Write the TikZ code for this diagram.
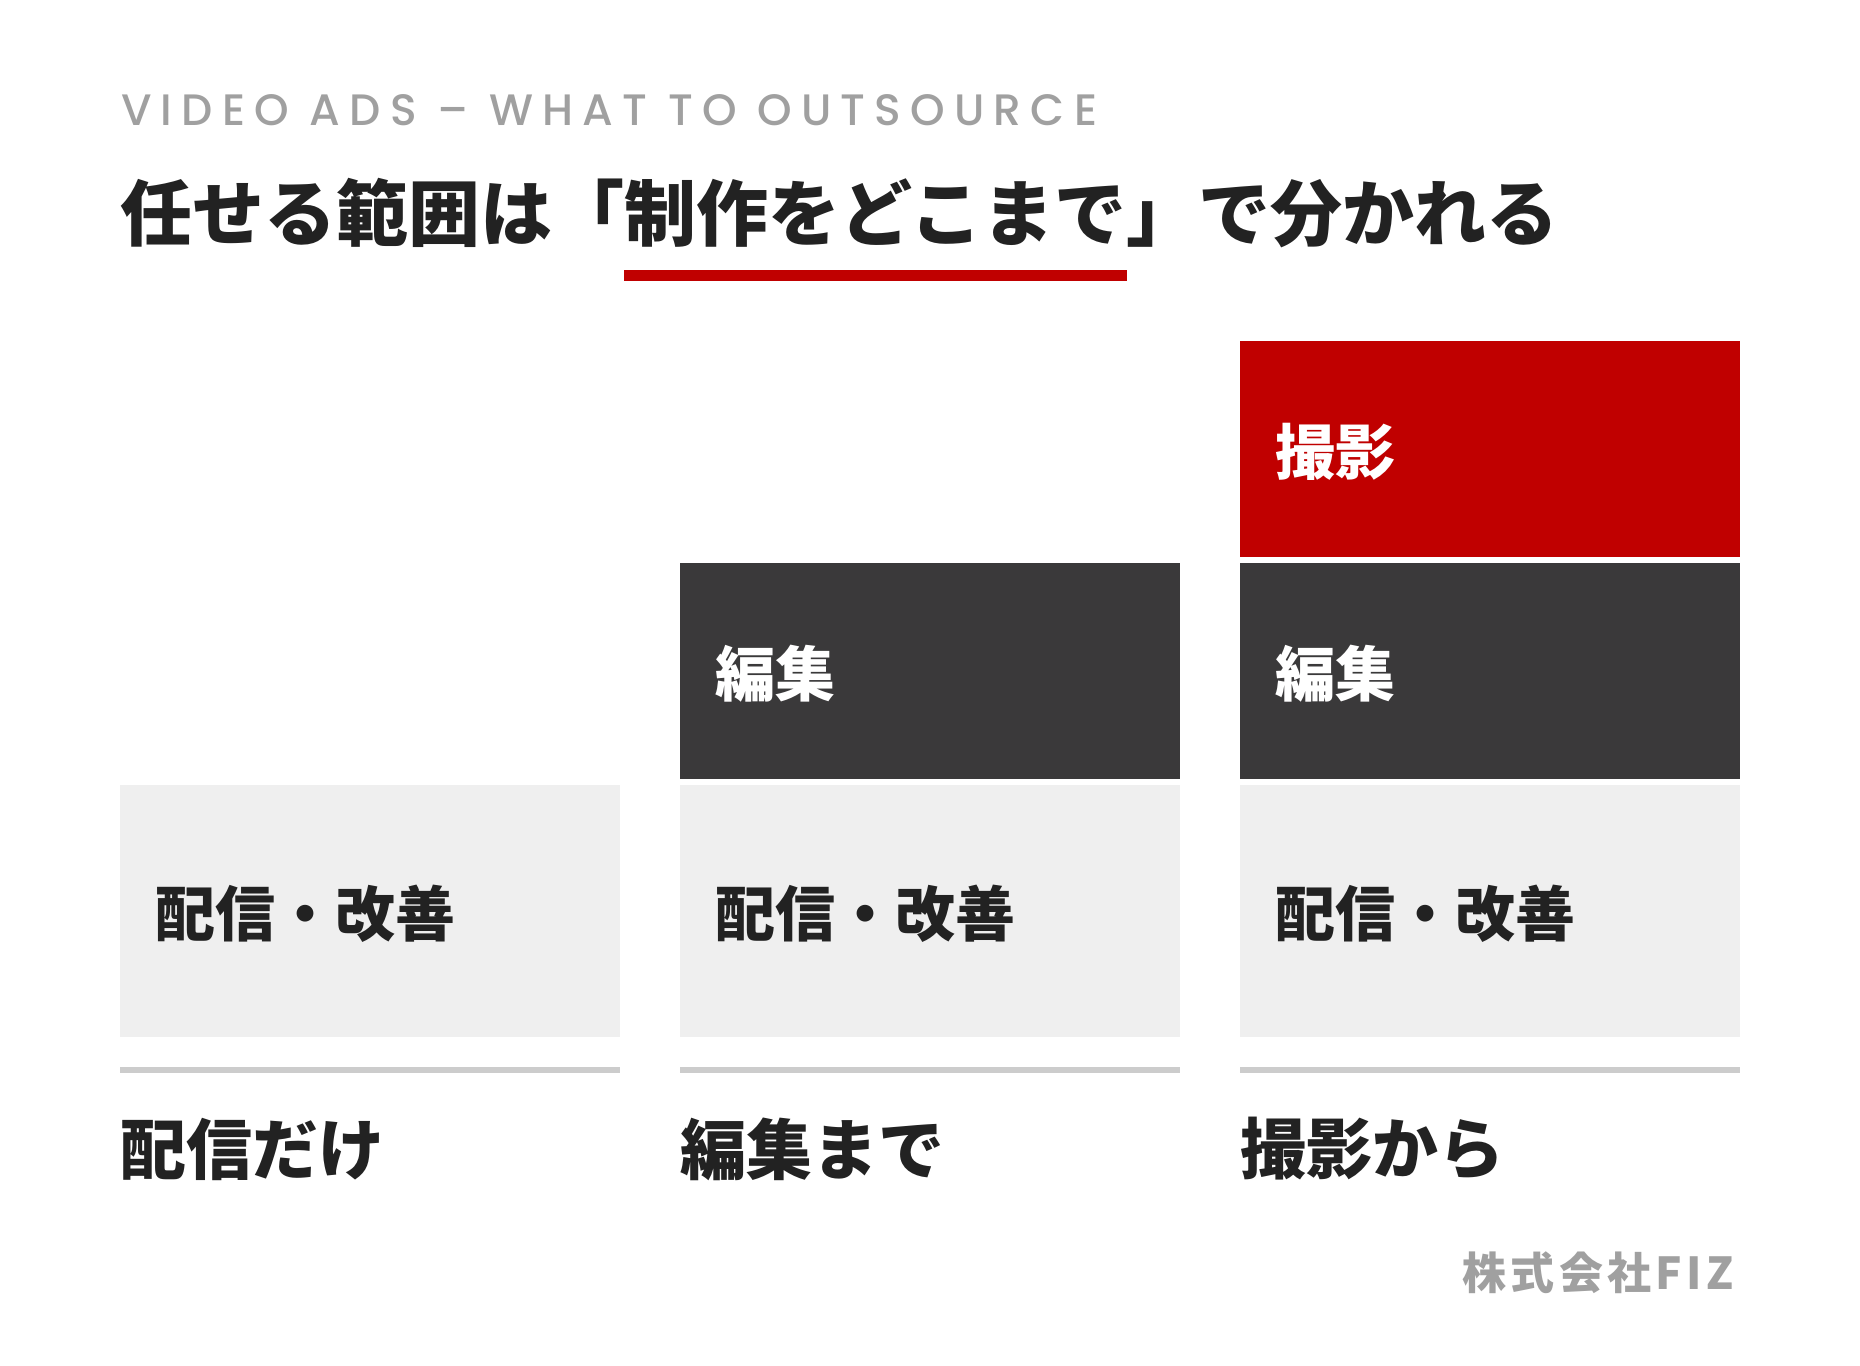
\documentclass[tikz,border=0pt]{standalone}
\usepackage{fontspec}
\usepackage{xcolor}
\newfontfamily\jpfont{Noto Sans CJK JP}
\newfontfamily\kickerfont{Poppins}[UprightFont=* Medium,LetterSpace=21]
\newfontfamily\brandfont{Noto Sans CJK JP}[LetterSpace=10]
\definecolor{adred}{HTML}{C00000}
\definecolor{addark}{HTML}{3A393A}
\definecolor{adlight}{HTML}{EFEFEF}
\definecolor{adrule}{HTML}{CCCCCC}
\definecolor{adgray}{HTML}{A0A0A0}
\definecolor{adink}{HTML}{222222}

\begin{document}
\begin{tikzpicture}[x=1pt,y=-1pt,
  boxlabel/.style={anchor=west,inner sep=0,font=\jpfont\bfseries\fontsize{60}{72}\selectfont},
  colname/.style={anchor=west,inner sep=0,text=adink,font=\jpfont\bfseries\fontsize{66}{80}\selectfont}]
  \fill[white] (0,0) rectangle (1860,1365);
  \useasboundingbox (0,0) rectangle (1860,1365);
  % heading
  \node[anchor=west,inner sep=0,text=adgray,font=\kickerfont\fontsize{44}{52}\selectfont] (kicker) at (121,110.5) {VIDEO ADS – WHAT TO OUTSOURCE};
  \node[anchor=west,inner sep=0,text=adink,font=\jpfont\bfseries\fontsize{72}{86}\selectfont] (title) at (120,213) {任せる範囲は「制作をどこまで」で分かれる};
  \fill[adred] (624,270) rectangle (1127,281);
  % column 1: delivery only
  \fill[adlight] (120,785) rectangle (620,1037);
  \node[boxlabel,text=adink] (deliv1) at (155,914) {配信・改善};
  \fill[adrule] (120,1067) rectangle (620,1073);
  \node[colname] (col1) at (120,1149) {配信だけ};
  % column 2: up to editing
  \fill[addark] (680,563) rectangle (1180,779);
  \node[boxlabel,text=white] (edit2) at (715,674) {編集};
  \fill[adlight] (680,785) rectangle (1180,1037);
  \node[boxlabel,text=adink] (deliv2) at (715,914) {配信・改善};
  \fill[adrule] (680,1067) rectangle (1180,1073);
  \node[colname] (col2) at (680,1149) {編集まで};
  % column 3: from shooting
  \fill[adred] (1240,341) rectangle (1740,557);
  \node[boxlabel,text=white] (shoot3) at (1275,452) {撮影};
  \fill[addark] (1240,563) rectangle (1740,779);
  \node[boxlabel,text=white] (edit3) at (1275,674) {編集};
  \fill[adlight] (1240,785) rectangle (1740,1037);
  \node[boxlabel,text=adink] (deliv3) at (1275,914) {配信・改善};
  \fill[adrule] (1240,1067) rectangle (1740,1073);
  \node[colname] (col3) at (1240,1149) {撮影から};
  % footer
  \node[anchor=east,inner sep=0,text=adgray,font=\brandfont\bfseries\fontsize{44}{52}\selectfont] (brand) at (1734,1273) {株式会社FIZ};
\end{tikzpicture}
\end{document}
